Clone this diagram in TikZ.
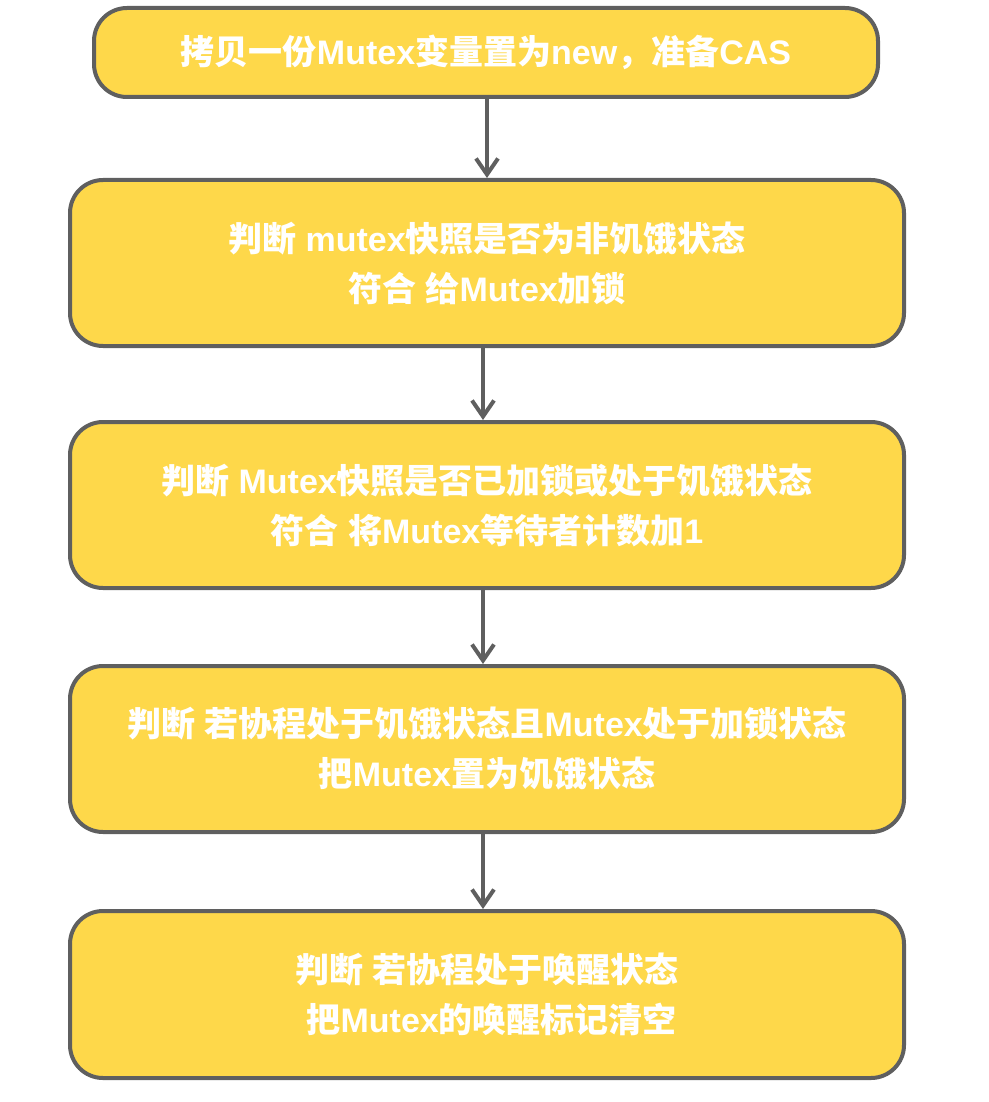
\documentclass[tikz,border=0pt]{standalone}
\usepackage{fontspec}
\setmainfont{Noto Sans CJK SC}
\newfontfamily\latf{Liberation Sans}
\newcommand\lat[1]{{\latf\bfseries #1}}
\usetikzlibrary{arrows.meta}
\definecolor{boxfill}{HTML}{FED84A}
\definecolor{boxline}{HTML}{5F5F5F}
\tikzset{
  stepbox/.style={draw=boxline, fill=boxfill, line width=4pt, rounded corners=33pt,
    text=white, align=center, inner sep=0pt,
    font=\bfseries\fontsize{34}{50}\selectfont},
  flow/.style={draw=boxline, line width=4pt, -{Straight Barb[length=16pt,width=22pt,line width=4pt]}}
}
\begin{document}
\begin{tikzpicture}[x=1pt,y=-1pt]
\useasboundingbox (0,0) rectangle (988,1102);
\node[stepbox, minimum width=784pt, minimum height=89pt] (b1) at (486,52.5) {拷贝一份\lat{Mutex}变量置为\lat{new}，准备\lat{CAS}};
\node[stepbox, minimum width=834pt, minimum height=166pt] (b2) at (487,263) {判断\lat{ mutex}快照是否为非饥饿状态\\符合\lat{ }给\lat{Mutex}加锁};
\node[stepbox, minimum width=834pt, minimum height=166pt] (b3) at (487,505) {判断\lat{ Mutex}快照是否已加锁或处于饥饿状态\\符合\lat{ }将\lat{Mutex}等待者计数加\lat{1}};
\node[stepbox, minimum width=834pt, minimum height=166pt] (b4) at (487,749) {判断\lat{ }若协程处于饥饿状态且\lat{Mutex}处于加锁状态\\把\lat{Mutex}置为饥饿状态};
\node[stepbox, minimum width=834pt, minimum height=167pt] (b5) at (487,994.5) {判断\lat{ }若协程处于唤醒状态\\\lat{\ }把\lat{Mutex}的唤醒标记清空};
\draw[flow] ([xshift=1pt]b1.south) -- ([xshift=0pt]b2.north);
\draw[flow] ([xshift=-4pt]b2.south) -- ([xshift=-4pt]b3.north);
\draw[flow] ([xshift=-4pt]b3.south) -- ([xshift=-4pt]b4.north);
\draw[flow] ([xshift=-4pt]b4.south) -- ([xshift=-4pt]b5.north);
\end{tikzpicture}
\end{document}
